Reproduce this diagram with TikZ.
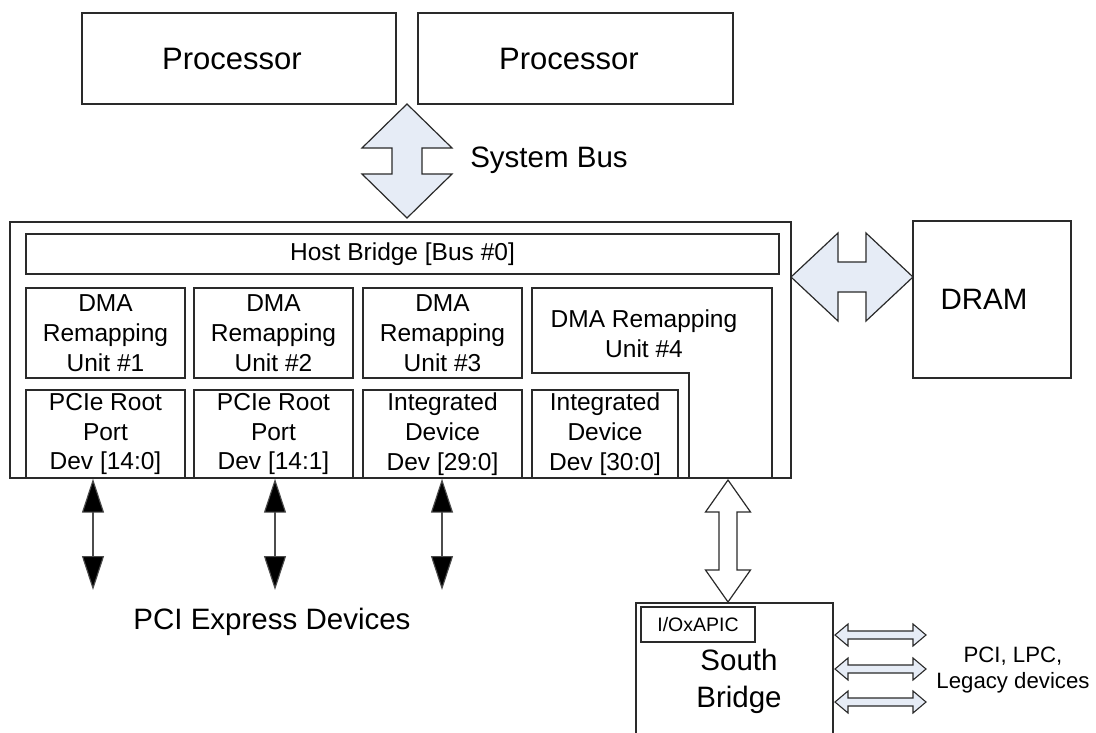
\documentclass[tikz,border=0pt]{standalone}
\usepackage{fontspec}
\setmainfont{Liberation Sans}
\usetikzlibrary{arrows.meta}
\definecolor{bfill}{HTML}{E6ECF6}
\definecolor{lcol}{HTML}{2A2A2A}
\newcommand\fBig{\fontsize{31}{37}\selectfont}
\newcommand\fMid{\fontsize{29.5}{37}\selectfont}
\newcommand\fBox{\fontsize{24.5}{29.8}\selectfont}
\newcommand\fSmall{\fontsize{22.2}{26}\selectfont}
\newcommand\fTiny{\fontsize{19.5}{23}\selectfont}
% vertical double block arrow: style, cx, ytop, ybot, headhalf, shafthalf, headlen
\newcommand\vdarr[7]{\draw[#1] (#2,#3) -- ({#2+#5},{#3+#7}) -- ({#2+#6},{#3+#7}) -- ({#2+#6},{#4-#7}) -- ({#2+#5},{#4-#7}) -- (#2,#4) -- ({#2-#5},{#4-#7}) -- ({#2-#6},{#4-#7}) -- ({#2-#6},{#3+#7}) -- ({#2-#5},{#3+#7}) -- cycle;}
% horizontal double block arrow: style, cy, xleft, xright, headhalf, shafthalf, headlen
\newcommand\hdarr[7]{\draw[#1] (#3,#2) -- ({#3+#7},{#2-#5}) -- ({#3+#7},{#2-#6}) -- ({#4-#7},{#2-#6}) -- ({#4-#7},{#2-#5}) -- (#4,#2) -- ({#4-#7},{#2+#5}) -- ({#4-#7},{#2+#6}) -- ({#3+#7},{#2+#6}) -- ({#3+#7},{#2+#5}) -- cycle;}
\tikzset{
  box/.style={draw=lcol, line width=1.4pt, inner sep=0pt, align=center, font=\fBox, text=black},
  blockarrow/.style={draw=lcol, line width=1.2pt, fill=bfill, line join=miter},
  sbarrow/.style={draw=lcol, line width=1.2pt, fill=white, line join=miter},
  smallarrow/.style={draw=lcol, line width=1.1pt, fill=bfill, line join=miter},
  pciearrow/.style={draw=black!70, line width=1.1pt, {Triangle[width=22pt,length=34pt,fill=black]}-{Triangle[width=22pt,length=34pt,fill=black]}},
  lbl/.style={inner sep=0pt, align=center, text=black}
}
\begin{document}
\begin{tikzpicture}[x=1pt,y=-1pt]
\useasboundingbox (0,0) rectangle (1096,732);
\fill[white] (0,0) rectangle (1096,732);
% processors
\node[box, font=\fBig, minimum width=314pt, minimum height=91pt] (p1) at (239,58.5) {Processor\hspace*{14pt}};
\node[box, font=\fBig, minimum width=315pt, minimum height=91pt] (p2) at (575.5,58.5) {Processor\hspace*{13pt}};
% host bridge outer
\node[box, minimum width=781pt, minimum height=256pt] (hb) at (400.5,350) {};
\node[box, minimum width=753pt, minimum height=40pt] (hbar) at (402.5,254) {Host Bridge [Bus \#0]};
% DMA units
\node[box, minimum width=159pt, minimum height=90pt] (d1) at (105.5,333) {DMA\\Remapping\\Unit \#1};
\node[box, minimum width=159pt, minimum height=90pt] (d2) at (273.5,333) {DMA\\Remapping\\Unit \#2};
\node[box, minimum width=159pt, minimum height=90pt] (d3) at (442.5,333) {DMA\\Remapping\\Unit \#3};
\draw[draw=lcol, line width=1.4pt] (532,288) -- (772,288) -- (772,478) -- (689,478) -- (689,373) -- (532,373) -- cycle;
\node[lbl, font=\fBox] (d4) at (644,334) {DMA Remapping\\Unit \#4};
% devices
\node[box, minimum width=159pt, minimum height=88pt] (r1) at (105.5,434) {PCIe Root\\Port\\Dev [14:0]};
\node[box, minimum width=159pt, minimum height=88pt] (r2) at (273.5,434) {PCIe Root\\Port\\Dev [14:1]};
\node[box, minimum width=159pt, minimum height=88pt] (r3) at (442.5,434) {Integrated\\Device\\Dev [29:0]};
\node[box, minimum width=146pt, minimum height=88pt] (r4) at (605,434) {Integrated\\Device\\Dev [30:0]};
% DRAM
\node[box, font=\fMid, minimum width=158pt, minimum height=157pt] (dram) at (992,299.5) {DRAM\hspace*{16pt}};
% system bus
\vdarr{blockarrow}{407}{104}{218}{45}{15}{44}
\node[lbl, font=\fMid] (sysbus) at (549,160) {System Bus};
% DRAM link
\hdarr{blockarrow}{277}{791}{913}{44}{15}{47}
% PCIe arrows
\coordinate (e1) at (93,590);
\coordinate (e2) at (275,590);
\coordinate (e3) at (442,590);
\draw[pciearrow] (r1.south -| e1) -- (e1);
\draw[pciearrow] (r2.south -| e2) -- (e2);
\draw[pciearrow] (r3.south -| e3) -- (e3);
\node[lbl, font=\fMid] (pcie) at (272,622) {PCI Express Devices};
% south bridge
\begin{scope}
\clip (0,0) rectangle (1096,732);
\node[box, minimum width=197pt, minimum height=142pt] (sb) at (734.5,674) {};
\end{scope}
\node[box, font=\fTiny, minimum width=114pt, minimum height=35pt] (ioapic) at (698,624.5) {I/OxAPIC};
\node[lbl, font=\fMid] (sbt) at (739,681) {South\\Bridge};
\vdarr{sbarrow}{728}{480}{602}{22.5}{9}{32}
% legacy links
\hdarr{smallarrow}{635}{835}{926}{11}{4}{13}
\hdarr{smallarrow}{669}{835}{926}{11}{4}{13}
\hdarr{smallarrow}{702}{835}{926}{11}{4}{13}
\node[lbl, font=\fSmall] (legacy) at (1013,670) {PCI, LPC,\\Legacy devices};
\end{tikzpicture}
\end{document}
